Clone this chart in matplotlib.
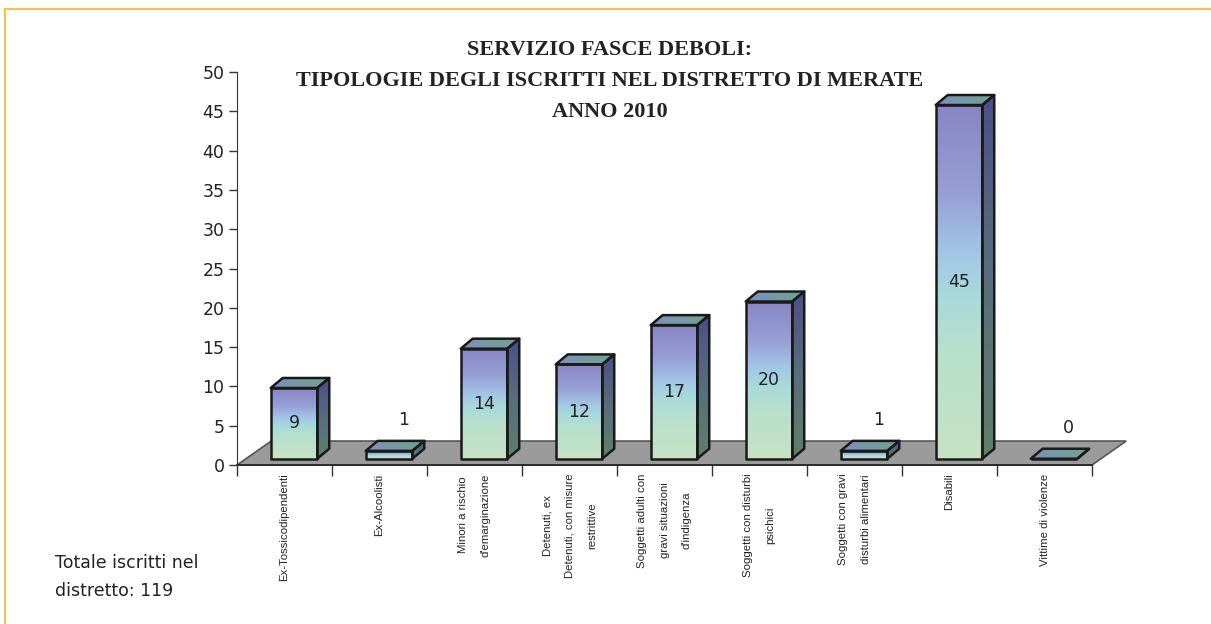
import numpy as np
import matplotlib
matplotlib.use("Agg")
import matplotlib.pyplot as plt
from matplotlib.colors import LinearSegmentedColormap
from matplotlib.patches import Polygon
from matplotlib.lines import Line2D

categories = [
    "Ex-Tossicodipendenti",
    "Ex-Alcoolisti",
    "Minori a rischio\nd'emarginazione",
    "Detenuti, ex\nDetenuti, con misure\nrestrittive",
    "Soggetti adulti con\ngravi situazioni\nd'indigenza",
    "Soggetti con disturbi\npsichici",
    "Soggetti con gravi\ndisturbi alimentari",
    "Disabili",
    "Vittime di violenze",
]
iscritti = [9, 1, 14, 12, 17, 20, 1, 45, 0]
totale = 119
title = "SERVIZIO FASCE DEBOLI:\nTIPOLOGIE DEGLI ISCRITTI NEL DISTRETTO DI MERATE\nANNO 2010"
y_ticks = list(range(0, 51, 5))

# 3d look: floor depth, bar depth, bar placement inside the floor
FLOOR_DX, FLOOR_DY = 0.36, 3.05
BAR_DX, BAR_DY = 0.126, 1.27
BAR_SHIFT_X, BAR_SHIFT_Y = 0.1, 0.8
BAR_W = 0.49

front_cmap = LinearSegmentedColormap.from_list("front", [
    (0.0, "#c6e3c3"), (0.3, "#b9e0cc"), (0.45, "#a9dbda"),
    (0.58, "#a2c6e6"), (0.75, "#979fd6"), (1.0, "#8985c3")])
side_cmap = LinearSegmentedColormap.from_list("side", ["#5f806b", "#586e7e", "#4b5089"])
top_cmap = LinearSegmentedColormap.from_list("top", ["#8090bd", "#6da48e"])

EDGE = "#1a1a1a"
TEXT = "#222222"


def face(ax, verts, cmap, horizontal=False, z=3):
    poly = Polygon(verts, closed=True, facecolor="none", edgecolor=EDGE,
                   lw=1.8, joinstyle="round", zorder=z + 0.5)
    ax.add_patch(poly)
    xs = [v[0] for v in verts]
    ys = [v[1] for v in verts]
    if max(xs) - min(xs) < 1e-9 or max(ys) - min(ys) < 1e-9:
        return
    g = np.linspace(0, 1, 256)
    grad = g.reshape(1, -1) if horizontal else g.reshape(-1, 1)
    im = ax.imshow(grad, extent=[min(xs), max(xs), min(ys), max(ys)], origin="lower",
                   cmap=cmap, aspect="auto", interpolation="bilinear", zorder=z)
    im.set_clip_path(poly)


def bar3d(ax, x0, h):
    x1 = x0 + BAR_W
    y0 = BAR_SHIFT_Y
    y1 = y0 + h
    face(ax, [(x0, y0), (x1, y0), (x1, y1), (x0, y1)], front_cmap)
    face(ax, [(x1, y0), (x1 + BAR_DX, y0 + BAR_DY), (x1 + BAR_DX, y1 + BAR_DY), (x1, y1)], side_cmap)
    face(ax, [(x0, y1), (x1, y1), (x1 + BAR_DX, y1 + BAR_DY), (x0 + BAR_DX, y1 + BAR_DY)],
         top_cmap, horizontal=True)


fig = plt.figure(figsize=(12.11, 6.24), dpi=100)
W, H = 1211, 624
ax = fig.add_axes([237 / W, (H - 465) / H, (1092 - 237) / W, (465 - 72) / H])
ax.patch.set_visible(False)

n = len(categories)

# grey floor
floor = Polygon([(0, 0), (n, 0), (n + FLOOR_DX, FLOOR_DY), (FLOOR_DX, FLOOR_DY)], closed=True,
                facecolor="#9b9b9b", edgecolor="#555555", lw=1.2, zorder=1, clip_on=False)
ax.add_patch(floor)

for i, v in enumerate(iscritti):
    x0 = i + 0.5 + BAR_SHIFT_X - BAR_W / 2
    bar3d(ax, x0, v)
    cx = i + 0.5 + BAR_SHIFT_X
    if v >= 3:
        ax.text(cx, BAR_SHIFT_Y + v / 2, str(v), ha="center", va="center",
                fontsize=12.5, color=TEXT, zorder=10)
    else:
        ax.text(cx + 0.15, v + 4.7, str(v), ha="center", va="center",
                fontsize=12.5, color=TEXT, zorder=10)

ax.set_xlim(0, n)
ax.set_ylim(0, 50)

ax.set_yticks(y_ticks)
ax.tick_params(axis="y", direction="out", length=6, width=1, pad=3, labelsize=12.5,
               colors="#333333", labelcolor=TEXT)

ax.set_xticks(range(n + 1))
ax.set_xticklabels([])
ax.set_xticks(np.arange(n) + 0.5, minor=True)
ax.set_xticklabels(categories, minor=True, rotation=90)
ax.tick_params(axis="x", which="major", direction="out", length=8, width=1, colors="#333333")
ax.tick_params(axis="x", which="minor", length=0, pad=6, labelcolor=TEXT)
for t in ax.get_xticklabels(minor=True):
    t.set_family("Liberation Sans")
    t.set_fontsize(8.2)
    t.set_multialignment("center")
    t.set_linespacing(2.55)

for s in ("top", "right"):
    ax.spines[s].set_visible(False)
ax.spines["left"].set_color("#333333")
ax.spines["bottom"].set_color("#222222")
ax.spines["bottom"].set_linewidth(1.2)
ax.spines["bottom"].set_zorder(2)

fig.text(610 / W, 1 - 81 / H, title, ha="center", va="center", fontsize=16,
         family="Liberation Serif", weight="bold", linespacing=1.75, color=TEXT)

fig.text(55 / W, 1 - 577 / H, "Totale iscritti nel\ndistretto: %d" % totale, ha="left", va="center",
         fontsize=12.5, linespacing=1.7, color=TEXT)

# thin frame around the page
border = "#f6c444"
fig.add_artist(Line2D([5 / W, 1], [1 - 9 / H, 1 - 9 / H], color=border, lw=1.5))
fig.add_artist(Line2D([5 / W, 5 / W], [0, 1 - 9 / H], color=border, lw=1.5))

fig.savefig("out.png", dpi=100, facecolor="white")
